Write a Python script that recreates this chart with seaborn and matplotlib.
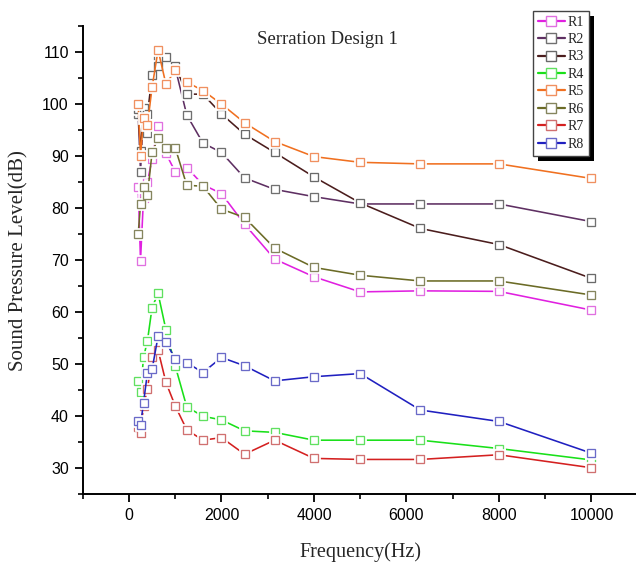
import matplotlib
matplotlib.use("Agg")
import matplotlib.pyplot as plt
from matplotlib.lines import Line2D
from matplotlib.patches import Rectangle
from matplotlib.ticker import MultipleLocator
import seaborn as sns
import pandas as pd

# ---- data ----
freq = [200, 250, 315, 400, 500, 630, 800, 1000, 1250, 1600, 2000, 2500,
        3150, 4000, 5000, 6300, 8000, 10000]
R1 = [84.0, 69.9, 82.0, 85.0, 89.5, 95.8, 90.5, 87.0, 87.8, 84.5, 82.8, 76.9,
      70.2, 66.8, 63.9, 64.1, 64.0, 60.4]
R2 = [98.0, 87.0, 98.5, 94.5, 105.8, 108.8, 108.8, 107.0, 97.9, 92.5, 90.7, 85.8,
      83.6, 82.2, 80.8, 80.8, 80.8, 77.4]
R3 = [99.0, 91.0, 99.2, 98.0, 105.5, 107.4, 109.0, 107.4, 101.9, 101.9, 98.1, 94.2,
      90.7, 86.0, 81.0, 76.1, 73.0, 66.5]
R4 = [46.8, 44.6, 51.3, 54.5, 60.9, 63.6, 56.6, 49.7, 41.8, 40.0, 39.3, 37.2,
      36.9, 35.4, 35.4, 35.4, 33.8, 31.6]
R5 = [100.0, 90.0, 97.4, 96.0, 103.2, 110.4, 103.8, 106.5, 104.2, 102.6, 100.0, 96.4,
      92.8, 89.9, 88.8, 88.5, 88.5, 85.7]
R6 = [75.0, 80.8, 84.0, 82.5, 90.7, 93.4, 91.6, 91.6, 84.4, 84.2, 79.8, 78.2,
      72.3, 68.6, 67.1, 66.0, 66.0, 63.3]
R7 = [38.0, 36.7, 42.0, 45.2, 51.3, 52.7, 46.5, 42.0, 37.4, 35.4, 35.9, 32.7,
      35.4, 31.9, 31.7, 31.7, 32.6, 30.1]
R8 = [39.1, 38.3, 42.6, 48.4, 49.0, 55.4, 54.3, 51.0, 50.3, 48.4, 51.3, 49.7,
      46.8, 47.6, 48.2, 41.2, 39.0, 32.9]

names = ["R1", "R2", "R3", "R4", "R5", "R6", "R7", "R8"]
series = [R1, R2, R3, R4, R5, R6, R7, R8]
line_colors = ["#e020e0", "#5e2f62", "#4b1d1d", "#19e019", "#f07020",
               "#6b6b26", "#d42020", "#2020c0"]
edge_colors = ["#e070e0", "#707070", "#6a6a6a", "#60e060", "#f09060",
               "#85855e", "#d07070", "#6a6ac8"]

title_text = "Serration Design 1"
xlabel = "Frequency(Hz)"
ylabel = "Sound Pressure Level(dB)"

# ---- figure ----
sns.set_style("ticks")
plt.rcParams["font.family"] = ["Liberation Sans", "DejaVu Sans"]

fig = plt.figure(figsize=(6.36, 5.68), dpi=100)
ax = fig.add_axes([82.7 / 636, (568 - 494.3) / 568, (637.7 - 82.7) / 636, (494.3 - 26) / 568])

df = pd.DataFrame({"freq": freq})
for name, vals in zip(names, series):
    df[name] = vals

for i, name in enumerate(names):
    z = 3 + i * 3
    sns.lineplot(data=df, x="freq", y=name, ax=ax, color=line_colors[i],
                 linewidth=1.15, zorder=z, legend=False)
    # white halo around markers (gap effect)
    ax.plot(df["freq"], df[name], linestyle="none", marker="s", markersize=6.2,
            markerfacecolor="white", markeredgecolor="white",
            markeredgewidth=3.4, zorder=z + 1)
    ax.plot(df["freq"], df[name], linestyle="none", marker="s", markersize=6.2,
            markerfacecolor="white", markeredgecolor=edge_colors[i],
            markeredgewidth=0.95, zorder=z + 2)

ax.set_xlim(-1000, 11000)
ax.set_ylim(25, 115)
ax.xaxis.set_major_locator(MultipleLocator(2000))
ax.xaxis.set_minor_locator(MultipleLocator(1000))
ax.yaxis.set_major_locator(MultipleLocator(10))
ax.yaxis.set_minor_locator(MultipleLocator(5))
ax.set_yticks([30, 40, 50, 60, 70, 80, 90, 100, 110])
ax.set_xticks([0, 2000, 4000, 6000, 8000, 10000])

for side in ["top", "right"]:
    ax.spines[side].set_visible(False)
for side in ["left", "bottom"]:
    ax.spines[side].set_linewidth(1.4)
    ax.spines[side].set_color("black")

ax.tick_params(axis="both", which="major", direction="out", length=6,
               width=1.3, labelsize=11.5, colors="black", pad=4)
ax.tick_params(axis="both", which="minor", direction="out", length=3.5,
               width=1.2, colors="black")

serif = ["Liberation Serif", "DejaVu Serif"]
ax.set_xlabel(xlabel, family=serif, fontsize=14.5, labelpad=14)
ax.set_ylabel(ylabel, family=serif, fontsize=15, labelpad=10)
ax.text(4300, 112.5, title_text, family=serif, fontsize=13.5,
        ha="center", va="center")

handles = [Line2D([0], [0], color=line_colors[i], linewidth=1.6, marker="s",
                  markersize=6.5, markerfacecolor="white",
                  markeredgecolor=edge_colors[i], markeredgewidth=1.0)
           for i in range(len(names))]
leg = fig.legend(handles, names, loc="upper left",
                 bbox_to_anchor=(532.7 / 636, 1 - 10.7 / 568),
                 prop={"family": serif, "size": 10},
                 frameon=True, fancybox=False, shadow=False,
                 framealpha=1.0, facecolor="white",
                 handlelength=2.0, handletextpad=0.15, labelspacing=0.32,
                 borderpad=0.35, borderaxespad=0.0, markerscale=1.0)
leg.get_frame().set_edgecolor("#444444")
leg.get_frame().set_linewidth(1.0)
leg.set_zorder(50)

fig.canvas.draw()
bb = leg.get_window_extent()
shadow = Rectangle((bb.x0 + 5.5, bb.y0 - 5.5), bb.width, bb.height,
                   transform=None, facecolor="black", edgecolor="none", zorder=40)
fig.patches.append(shadow)

fig.savefig("out.png", dpi=100)
